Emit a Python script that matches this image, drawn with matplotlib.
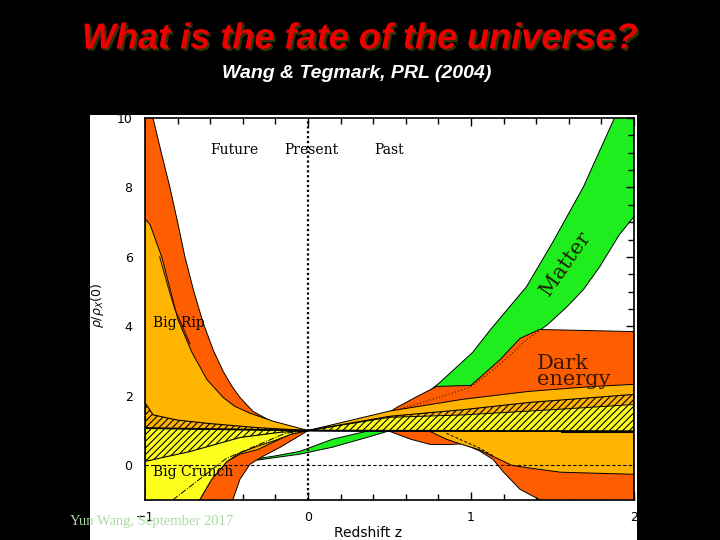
import matplotlib
matplotlib.use("Agg")
import matplotlib.pyplot as plt
from matplotlib.patches import Rectangle
import matplotlib.patheffects as pe

# values (redshift z vs rho_X(z)/rho_X(0))
green_hi_z = [-0.31, -0.2, -0.05, 0.15, 0.36, 0.5, 0.63, 0.81, 1.01, 1.12, 1.34, 1.5, 1.69, 1.88, 2.0]
green_hi_y = [0.19, 0.27, 0.40, 0.75, 0.98, 1.35, 1.7, 2.39, 3.25, 3.91, 5.14, 6.41, 8.02, 10.0, 11.2]
green_lo_z = [-0.31, -0.05, 0.15, 0.36, 0.49, 0.7, 0.85, 0.99, 1.1, 1.28, 1.47, 1.59, 1.69, 1.79, 1.91, 2.0]
green_lo_y = [0.15, 0.32, 0.52, 0.8, 0.98, 1.3, 1.75, 2.15, 2.42, 3.42, 4.05, 4.57, 5.06, 5.72, 6.64, 7.16]

red_hi_z = [-1, -0.951, -0.9, -0.847, -0.8, -0.755, -0.7, -0.644, -0.58, -0.52, -0.466, -0.417, -0.337,
            -0.215, -0.11, 0, 0.25, 0.5, 0.546, 0.669, 0.79, 1.0, 1.18, 1.3, 1.42, 2.0]
red_hi_y = [11, 10, 9.0, 8, 7.0, 6, 5.0, 4.11, 3.3, 2.7, 2.27, 1.95, 1.55,
            1.24, 1.1, 1.0, 1.25, 1.53, 1.67, 1.98, 2.27, 2.3, 3.05, 3.65, 3.91, 3.85]
red_lo_z = [-1, -0.6, -0.46, -0.417, -0.356, -0.276, -0.17, -0.07, 0,
            0.5, 0.63, 0.75, 0.88, 0.95, 1.05, 1.135, 1.2, 1.3, 1.38, 1.45, 2.0]
red_lo_y = [-4, -2.5, -0.98, -0.4, 0.03, 0.26, 0.52, 0.8, 1.0,
            0.98, 0.75, 0.6, 0.6, 0.62, 0.42, 0.17, -0.2, -0.69, -0.89, -1.05, -1.2]

orange_hi_z = [-1, -0.969, -0.896, -0.798, -0.712, -0.62, -0.52, -0.45, -0.356, -0.215, -0.07, 0,
               0.25, 0.5, 0.95, 1.36, 1.75, 2.0]
orange_hi_y = [7.1, 6.93, 5.98, 4.2, 3.25, 2.47, 1.95, 1.7, 1.5, 1.27, 1.09, 1.0,
               1.28, 1.56, 1.9, 2.13, 2.27, 2.33]
orange_lo_z = [-1, -0.75, -0.663, -0.59, -0.497, -0.417, -0.31, -0.215, -0.11, 0,
               0.5, 0.75, 0.85, 0.93, 1.05, 1.16, 1.25, 1.36, 1.55, 2.0]
orange_lo_y = [-4, -1.6, -0.98, -0.4, 0.11, 0.32, 0.45, 0.66, 0.89, 1.0,
               0.98, 0.97, 0.75, 0.62, 0.45, 0.2, 0.0, -0.08, -0.2, -0.26]

yellow_hi_z = [-1, 0, 0.5, 0.95, 1.5, 2.0]
yellow_hi_y = [1.07, 1.0, 1.38, 1.45, 1.6, 1.75]
yellow_lo_z = [-1, -0.75, -0.663, -0.59, -0.497, -0.417, -0.31, -0.2, -0.1, 0, 2.0]
yellow_lo_y = [-4, -1.6, -0.98, -0.4, 0.11, 0.36, 0.55, 0.72, 0.9, 1.0, 0.97]

hatch_hi_z = [-1, -0.95, -0.8, -0.6, -0.3, 0, 0.5, 0.95, 1.36, 2.0]
hatch_hi_y = [1.8, 1.45, 1.3, 1.2, 1.08, 1.0, 1.41, 1.6, 1.81, 2.04]
hatch_lo_z = [-1, -0.72, -0.417, -0.17, 0, 2.0]
hatch_lo_y = [0.11, 0.4, 0.8, 0.95, 1.0, 0.97]

lcdm_z = [-1, 0, 2]
lcdm_y = [1.07, 1.0, 0.98]
dashdot_z = [-0.83, -0.5, -0.3, -0.14, 0]
dashdot_y = [-1.0, 0.2, 0.6, 0.92, 1.0]
rip_line_z = [-0.91, -0.88, -0.85, -0.816, -0.77, -0.724]
rip_line_y = [6.0, 5.5, 5.0, 4.48, 4.0, 3.5]
dotted_z = [0.55, 0.8, 0.99, 1.06, 1.2, 1.344, 1.42]
dotted_y = [1.6, 1.95, 2.24, 2.47, 3.0, 3.62, 3.88]
dashed_z = [0.85, 0.93, 1.05, 1.14]
dashed_y = [0.92, 0.75, 0.5, 0.26]
step_z = [1.56, 2.0]
step_y = [0.95, 0.95]

RED = "#FF5E00"
ORANGE = "#FFB400"
YELLOW = "#FFFF1E"
GREEN = "#1EEE1E"

fig = plt.figure(figsize=(7.2, 5.4), dpi=100, facecolor="black")
fig.patches.append(Rectangle((90 / 720, 0), 547 / 720, 425 / 540, transform=fig.transFigure,
                             facecolor="white", edgecolor="none", zorder=-5))

ax = fig.add_axes([145 / 720, 40 / 540, 489 / 720, 382 / 540])
ax.set_zorder(2)


def band(z_hi, y_hi, z_lo, y_lo, **kw):
    xs = list(z_hi) + list(z_lo)[::-1]
    ys = list(y_hi) + list(y_lo)[::-1]
    ax.fill(xs, ys, **kw)


band(green_hi_z, green_hi_y, green_lo_z, green_lo_y, facecolor=GREEN, edgecolor="black", lw=0.7, zorder=1)
band(red_hi_z, red_hi_y, red_lo_z, red_lo_y, facecolor=RED, edgecolor="black", lw=0.7, zorder=2)
band(orange_hi_z, orange_hi_y, orange_lo_z, orange_lo_y, facecolor=ORANGE, edgecolor="black", lw=0.7, zorder=3)
band(yellow_hi_z, yellow_hi_y, yellow_lo_z, yellow_lo_y, facecolor=YELLOW, edgecolor="black", lw=0.7, zorder=4)
plt.rcParams["hatch.linewidth"] = 0.8
band(hatch_hi_z, hatch_hi_y, hatch_lo_z, hatch_lo_y, facecolor="none", edgecolor="black",
     hatch="/////", lw=0.8, zorder=5)

ax.plot(lcdm_z, lcdm_y, color="black", lw=1.3, zorder=6)
ax.plot(dashdot_z, dashdot_y, color="black", lw=0.7, ls="-.", zorder=6)
ax.plot(rip_line_z, rip_line_y, color="#401000", lw=0.8, zorder=6)
ax.plot(dotted_z, dotted_y, color="#401000", lw=0.8, ls=(0, (1, 2)), zorder=6)
ax.plot(dashed_z, dashed_y, color="black", lw=0.7, ls=(0, (3, 2)), zorder=6)
ax.plot(step_z, step_y, color="black", lw=1.5, zorder=6)
ax.axhline(0, color="black", lw=0.8, ls=(0, (3, 2)), zorder=6)
ax.axvline(0, color="black", lw=1.6, ls=(0, (1, 1.2)), zorder=6)

ax.set_xlim(-1, 2)
ax.set_ylim(-1, 10)
ax.set_xticks([-1, 0, 1, 2])
ax.set_xticks([-0.8, -0.6, -0.4, -0.2, 0.2, 0.4, 0.6, 0.8, 1.2, 1.4, 1.6, 1.8], minor=True)
ax.set_yticks([0, 2, 4, 6, 8, 10])
ax.set_yticks([-0.5, 0.5, 1, 1.5, 2.5, 3, 3.5, 4.5, 5, 5.5, 6.5, 7, 7.5, 8.5, 9, 9.5], minor=True)
ax.tick_params(which="both", direction="in", top=True, right=True, width=1, labelsize=9)
ax.tick_params(which="major", length=6)
ax.tick_params(which="minor", length=4)
ax.tick_params(axis="x", pad=8)
ax.tick_params(axis="y", pad=9)
for s in ax.spines.values():
    s.set_linewidth(1.2)
    s.set_zorder(8)

serif = "DejaVu Serif"
ax.text(-0.45, 9.08, "Future", family=serif, fontsize=10, ha="center", va="center", zorder=7)
ax.text(0.02, 9.08, "Present", family=serif, fontsize=10, ha="center", va="center", zorder=7)
ax.text(0.5, 9.08, "Past", family=serif, fontsize=10, ha="center", va="center", zorder=7)
ax.text(-0.95, 4.1, "Big Rip", family=serif, fontsize=10, ha="left", va="center", zorder=7)
ax.text(-0.95, -0.2, "Big Crunch", family=serif, fontsize=10, ha="left", va="center", zorder=7)
ax.text(1.58, 5.8, "Matter", family=serif, fontsize=15, rotation=55, ha="center", va="center",
        color="#202000", zorder=7)
ax.text(1.405, 3.2, "Dark\nenergy", family=serif, fontsize=15, ha="left", va="top",
        linespacing=0.8, color="#3a1800", zorder=7)

fig.text(0.5, 1 - 39 / 540, "What is the fate of the universe?", color="#EE0000",
         family="Liberation Sans", weight="bold", style="italic", fontsize=26, ha="center", va="center",
         path_effects=[pe.withSimplePatchShadow(offset=(1.5, -1.5), shadow_rgbFace="#2c3408", alpha=1)])
fig.text(0.495, 1 - 74 / 540, "Wang & Tegmark, PRL (2004)", color="white",
         family="Liberation Sans", weight="bold", style="italic", fontsize=14, ha="center", va="center")
fig.text(368 / 720, 1 - 533 / 540, "Redshift z", color="black", fontsize=10, ha="center", va="center")
fig.text(98 / 720, 1 - 305 / 540, r"$\rho/\rho_X(0)$", color="black", fontsize=9, rotation=90,
         ha="center", va="center")
fig.text(70 / 720, 1 - 522 / 540, "Yun Wang, September 2017", color="#A8DCA0",
         family="Liberation Serif", fontsize=10.5, ha="left", va="center", zorder=10)

fig.savefig("out.png", dpi=100, facecolor="black")
